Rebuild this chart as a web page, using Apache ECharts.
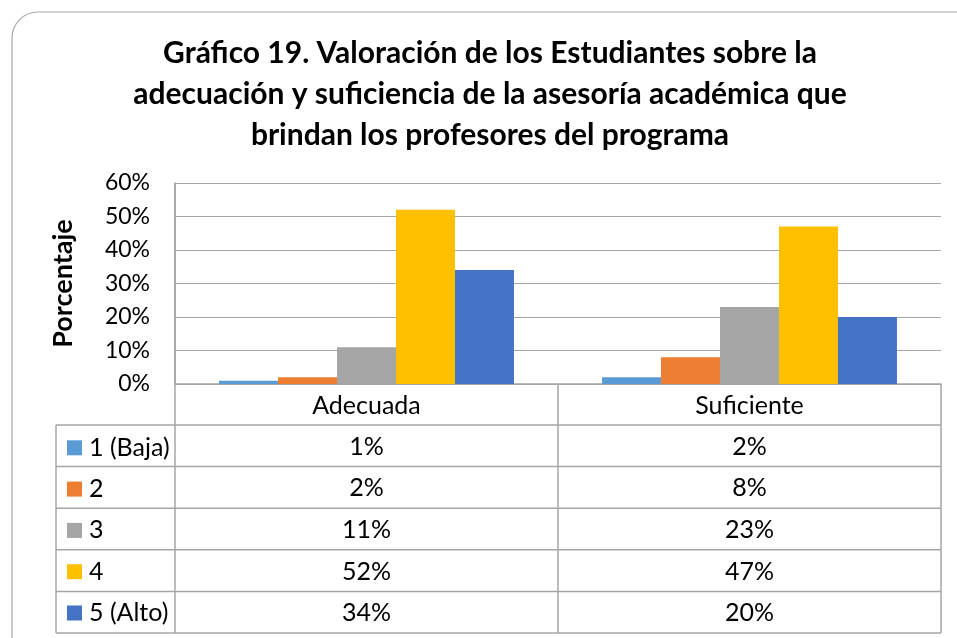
<!DOCTYPE html>
<html>
<head>
<meta charset="utf-8">
<script src="https://cdn.jsdelivr.net/npm/echarts@6/dist/echarts.min.js"></script>
<style>
  html, body { margin: 0; padding: 0; background: #fff; }
  #chart { width: 957px; height: 638px; }
</style>
</head>
<body>
<div id="chart"></div>
<script>
const titleLines = [
  'Gráfico 19. Valoración de los Estudiantes sobre la',
  'adecuación y suficiencia de la asesoría académica que',
  'brindan los profesores del programa'
];
const categories = ['Adecuada', 'Suficiente'];
const levels = ['1 (Baja)', '2', '3', '4', '5 (Alto)'];
const level1 = [1, 2];
const level2 = [2, 8];
const level3 = [11, 23];
const level4 = [52, 47];
const level5 = [34, 20];
const levelValues = [level1, level2, level3, level4, level5];
const yTicks = [0, 10, 20, 30, 40, 50, 60];

const colors = ['#5B9BD5', '#ED7D31', '#A5A5A5', '#FFC000', '#4472C4'];
const font = 'Lato, "Open Sans", sans-serif';
const lineColor = '#a6a6a6';
const tableFont = 25;

// layout of the plot + data table
const plotLeft = 175;
const plotRight = 941;
const plotTop = 183;
const plotBottom = 384;
const tableLeft = 56;
const headerBottom = 425;
const rowH = 41.6;

const myChart = echarts.init(document.querySelector('#chart'));

const option = {
  animation: false,
  color: colors,
  grid: {
    left: plotLeft,
    right: 957 - plotRight,
    top: plotTop,
    bottom: 638 - plotBottom
  },
  legend: {
    orient: 'vertical',
    left: 62,
    top: headerBottom + rowH / 2 - tableFont / 2 - 3,
    itemWidth: 15,
    itemHeight: 15,
    itemGap: rowH - tableFont - 0.3,
    icon: 'rect',
    selectedMode: false,
    data: levels,
    textStyle: { fontFamily: font, fontSize: tableFont, lineHeight: tableFont, color: '#000', padding: [0, 0, 0, 2] }
  },
  xAxis: {
    type: 'category',
    data: categories,
    axisLine: { show: true, lineStyle: { color: lineColor, width: 1.5 } },
    axisTick: { show: false },
    axisLabel: { fontFamily: font, fontSize: tableFont, color: '#000', margin: 9 }
  },
  yAxis: {
    type: 'value',
    min: yTicks[0],
    max: yTicks[yTicks.length - 1],
    interval: 10,
    name: 'Porcentaje',
    nameLocation: 'middle',
    nameGap: 98,
    nameTextStyle: { fontFamily: font, fontSize: 27, fontWeight: 'bold', color: '#000' },
    axisLine: { show: true, lineStyle: { color: lineColor, width: 1.5 } },
    axisLabel: {
      fontFamily: font, fontSize: 23, color: '#000', margin: 25,
      formatter: v => v + '%'
    },
    splitLine: { lineStyle: { color: lineColor, width: 1 } }
  },
  series: levels.map((name, i) => ({
    name,
    type: 'bar',
    data: levelValues[i],
    barGap: '0%',
    barCategoryGap: '23%'
  }))
};

myChart.setOption(option);

// ---- data table under the plot (text + rules) ----
const line = (x1, y1, x2, y2) => ({
  type: 'line',
  silent: true,
  shape: { x1, y1, x2, y2 },
  style: { stroke: lineColor, lineWidth: 1.5 }
});

const graphics = [];
graphics.push({
  type: 'rect',
  silent: true,
  shape: { x: 12, y: 12, width: 980, height: 660, r: 26 },
  style: { fill: null, stroke: '#a6a6a6', lineWidth: 1.2 }
});
titleLines.forEach((t, i) => {
  graphics.push({
    type: 'text',
    silent: true,
    style: {
      text: t, x: 490, y: 53 + i * 41,
      align: 'center', verticalAlign: 'middle',
      font: 'bold 30px ' + font, fill: '#000'
    }
  });
});

const tableBottom = headerBottom + rowH * levels.length;
const midX = (plotLeft + plotRight) / 2;

graphics.push(line(plotLeft, plotTop, plotLeft, tableBottom));
graphics.push(line(midX, plotBottom, midX, tableBottom));
graphics.push(line(plotRight, plotBottom, plotRight, tableBottom));
graphics.push(line(tableLeft, headerBottom, tableLeft, tableBottom));
for (let r = 0; r <= levels.length; r++) {
  const y = headerBottom + r * rowH;
  graphics.push(line(tableLeft, y, plotRight, y));
}
levelValues.forEach((vals, r) => {
  vals.forEach((v, c) => {
    const x = myChart.convertToPixel({ xAxisIndex: 0 }, categories[c]);
    graphics.push({
      type: 'text',
      silent: true,
      style: {
        text: v + '%', x, y: headerBottom + r * rowH + rowH / 2 + 1,
        align: 'center', verticalAlign: 'middle',
        font: tableFont + 'px ' + font, fill: '#000'
      }
    });
  });
});

myChart.setOption({ graphic: graphics });
</script>
</body>
</html>
